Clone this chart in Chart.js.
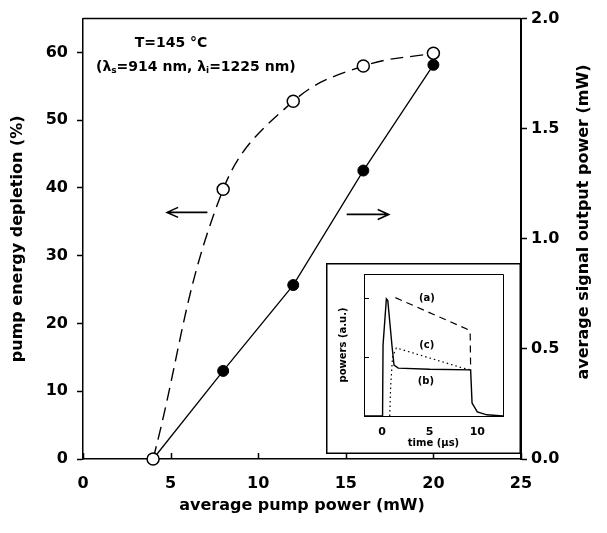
<!DOCTYPE html>
<html>
<head>
<meta charset="utf-8">
<script src="https://cdn.jsdelivr.net/npm/chart.js@4.4.1/dist/chart.umd.min.js"></script>
<style>
  html, body { margin: 0; padding: 0; background: #fff; }
  #wrap { position: relative; width: 607px; height: 533px; }
  #main { position: absolute; left: 0; top: 0; }
  #inset { position: absolute; left: 326px; top: 263px; background: #fff; }
</style>
</head>
<body>
<div id="wrap">
  <canvas id="main" width="607" height="533"></canvas>
  <canvas id="inset" width="195" height="191"></canvas>
</div>
<script>
// main plot
const pumpPower = [4, 8, 12, 16, 20];
const depletion = [0, 39.8, 52.8, 58.0, 59.9];
const signalPower = [0, 0.40, 0.79, 1.31, 1.79];
const xTicks = [0, 5, 10, 15, 20, 25];
const leftTicks = [0, 10, 20, 30, 40, 50, 60];
const rightTicks = [0, 0.5, 1.0, 1.5, 2.0];

// inset: pulse shapes, time in us, power in a.u.
const timeA = [1.4, 8.9, 9.25, 9.3];
const powerA = [2.0, 1.47, 1.42, 0.8];
const timeB = [-1.9, 0.05, 0.1, 0.45, 0.6, 1.05, 1.25, 1.7, 5.0, 9.3, 9.45, 10.0, 11.0, 12.7];
const powerB = [0, 0, 1.2, 1.98, 1.95, 1.17, 0.86, 0.81, 0.79, 0.78, 0.22, 0.07, 0.02, 0];
const timeC = [0.8, 0.9, 1.1, 1.5, 5.0, 8.5, 9.3];
const powerC = [0, 0.5, 1.0, 1.15, 0.98, 0.81, 0.78];
const insetTimeTicks = [0, 5, 10];
const insetPowerTicks = [1, 2];

Chart.defaults.font.family = 'DejaVu Sans';
Chart.defaults.font.weight = 'bold';
Chart.defaults.color = '#000';

function pairs(xs, ys) {
  return xs.map((v, i) => ({ x: v, y: ys[i] }));
}
function fixedTicks(list) {
  return scale => { scale.ticks = list.map(v => ({ value: v })); };
}

function arrow(ctx, x1, y1, x2, y2) {
  const dir = Math.sign(x2 - x1);
  ctx.beginPath();
  ctx.moveTo(x1, y1);
  ctx.lineTo(x2, y2);
  ctx.moveTo(x2 - dir * 11, y2 - 5);
  ctx.lineTo(x2, y2);
  ctx.lineTo(x2 - dir * 11, y2 + 5);
  ctx.stroke();
}

const decorations = {
  id: 'decorations',
  afterDraw(chart) {
    const { ctx, chartArea: a, scales: { x, y } } = chart;
    ctx.save();
    ctx.strokeStyle = '#000';
    ctx.fillStyle = '#000';
    ctx.lineWidth = 1.5;
    ctx.beginPath();
    ctx.moveTo(a.left, a.top);
    ctx.lineTo(a.right, a.top);
    // x ticks point into the plot
    xTicks.forEach(v => {
      const px = Math.round(x.getPixelForValue(v)) + 0.5;
      ctx.moveTo(px, a.bottom);
      ctx.lineTo(px, a.bottom - 6);
    });
    ctx.stroke();

    // arrows pointing to the axes
    ctx.lineWidth = 1.6;
    arrow(ctx, x.getPixelForValue(7.1), y.getPixelForValue(36.4), x.getPixelForValue(4.8), y.getPixelForValue(36.4));
    arrow(ctx, x.getPixelForValue(15.05), y.getPixelForValue(36.1), x.getPixelForValue(17.45), y.getPixelForValue(36.1));

    // conditions
    ctx.font = 'bold 14px "DejaVu Sans"';
    ctx.textBaseline = 'middle';
    ctx.textAlign = 'center';
    ctx.fillText('T=145 °C', 171, 43);
    ctx.textAlign = 'left';
    const parts = [['(λ', 0], ['s', 1], ['=914 nm, λ', 0], ['i', 1], ['=1225 nm)', 0]];
    let cx = 96;
    parts.forEach(([t, sub]) => {
      ctx.font = sub ? 'bold 9px "DejaVu Sans"' : 'bold 14px "DejaVu Sans"';
      ctx.fillText(t, cx, sub ? 71 : 67);
      cx += ctx.measureText(t).width;
    });

    // right axis title reads bottom to top
    ctx.font = 'bold 16px "DejaVu Sans"';
    ctx.translate(584, 222);
    ctx.rotate(-Math.PI / 2);
    ctx.textAlign = 'center';
    ctx.fillText('average signal output power (mW)', 0, 0);
    ctx.restore();
  }
};

new Chart(document.getElementById('main'), {
  type: 'line',
  data: {
    datasets: [
      {
        label: 'pump energy depletion',
        data: pairs(pumpPower, depletion),
        yAxisID: 'y',
        borderColor: '#000',
        borderWidth: 1.4,
        borderDash: [13, 7],
        tension: 0.4,
        pointRadius: 6,
        pointBackgroundColor: '#fff',
        pointBorderColor: '#000',
        pointBorderWidth: 1.5,
        clip: false
      },
      {
        label: 'average signal output power',
        data: pairs(pumpPower, signalPower),
        yAxisID: 'y2',
        borderColor: '#000',
        borderWidth: 1.3,
        tension: 0,
        pointRadius: 5.5,
        pointBackgroundColor: '#000',
        pointBorderColor: '#000',
        pointBorderWidth: 1,
        clip: false
      }
    ]
  },
  options: {
    responsive: false,
    animation: false,
    layout: { padding: { top: 16 } },
    plugins: { legend: { display: false }, tooltip: { enabled: false } },
    scales: {
      x: {
        type: 'linear', min: 0, max: 25,
        afterBuildTicks: fixedTicks(xTicks),
        afterFit: s => { s.height = 74; },
        grid: { drawOnChartArea: false, drawTicks: false },
        border: { color: '#000', width: 1.5 },
        ticks: { padding: 15, font: { size: 16, weight: 'bold' }, color: '#000' },
        title: { display: true, text: 'average pump power (mW)', font: { size: 16, weight: 'bold' }, color: '#000', padding: { top: 0, bottom: 18 } }
      },
      y: {
        position: 'left', min: 0, max: 65,
        afterBuildTicks: fixedTicks(leftTicks),
        afterFit: s => { s.width = 83; },
        grid: { drawOnChartArea: false, tickLength: 6, color: '#000', tickWidth: 1.5 },
        border: { color: '#000', width: 1.5 },
        ticks: { padding: 9, font: { size: 16, weight: 'bold' }, color: '#000' },
        title: { display: true, text: 'pump energy depletion (%)', font: { size: 16, weight: 'bold' }, color: '#000', padding: { top: 8, bottom: 0 } }
      },
      y2: {
        position: 'right', min: 0, max: 2.0,
        afterBuildTicks: fixedTicks(rightTicks),
        afterFit: s => { s.width = 86; },
        grid: { drawOnChartArea: false, tickLength: 6, color: '#000', tickWidth: 1.5 },
        border: { color: '#000', width: 2 },
        ticks: { padding: 4, font: { size: 16, weight: 'bold' }, color: '#000', callback: v => v.toFixed(1) }
      }
    }
  },
  plugins: [decorations]
});

const insetFrame = {
  id: 'insetFrame',
  afterDraw(chart) {
    const { ctx, chartArea: a, scales: { x, y } } = chart;
    ctx.save();
    ctx.strokeStyle = '#000';
    ctx.fillStyle = '#000';
    ctx.lineWidth = 1.5;
    ctx.strokeRect(0.75, 0.75, chart.width - 1.5, chart.height - 1.5);
    ctx.lineWidth = 1;
    ctx.beginPath();
    ctx.moveTo(a.left, a.top + 0.5);
    ctx.lineTo(a.right + 0.5, a.top + 0.5);
    ctx.lineTo(a.right + 0.5, a.bottom);
    insetPowerTicks.forEach(v => {
      const py = Math.round(y.getPixelForValue(v)) + 0.5;
      ctx.moveTo(a.left, py);
      ctx.lineTo(a.left + 5, py);
    });
    ctx.stroke();
    ctx.font = 'bold 10px "DejaVu Sans"';
    ctx.textAlign = 'center';
    ctx.textBaseline = 'middle';
    ctx.fillText('(a)', x.getPixelForValue(4.7), y.getPixelForValue(1.98));
    ctx.fillText('(c)', x.getPixelForValue(4.7), y.getPixelForValue(1.2));
    ctx.fillText('(b)', x.getPixelForValue(4.6), y.getPixelForValue(0.58));
    ctx.restore();
  }
};

new Chart(document.getElementById('inset'), {
  type: 'line',
  data: {
    datasets: [
      { label: '(a)', data: pairs(timeA, powerA), borderDash: [7, 5] },
      { label: '(b)', data: pairs(timeB, powerB), borderWidth: 1.4 },
      { label: '(c)', data: pairs(timeC, powerC), borderDash: [1.5, 3] }
    ]
  },
  options: {
    responsive: false,
    animation: false,
    layout: { padding: { top: 11, right: 18 } },
    plugins: { legend: { display: false }, tooltip: { enabled: false } },
    elements: { point: { radius: 0 }, line: { borderColor: '#000', borderWidth: 1.2, tension: 0 } },
    scales: {
      x: {
        type: 'linear', min: -1.9, max: 12.7,
        afterBuildTicks: fixedTicks(insetTimeTicks),
        afterFit: s => { s.height = 38; },
        grid: { display: false, drawTicks: false },
        border: { color: '#000', width: 1 },
        ticks: { padding: 10, font: { size: 11, weight: 'bold' }, color: '#000' },
        title: { display: true, text: 'time (µs)', font: { size: 10, weight: 'bold' }, color: '#000', padding: { top: 0, bottom: 5 } }
      },
      y: {
        min: 0, max: 2.4,
        afterFit: s => { s.width = 38; },
        grid: { display: false, drawTicks: false },
        border: { color: '#000', width: 1 },
        ticks: { display: false },
        title: { display: true, text: 'powers (a.u.)', font: { size: 10, weight: 'bold' }, color: '#000', padding: { top: 11, bottom: 0 } }
      }
    }
  },
  plugins: [insetFrame]
});
</script>
</body>
</html>
